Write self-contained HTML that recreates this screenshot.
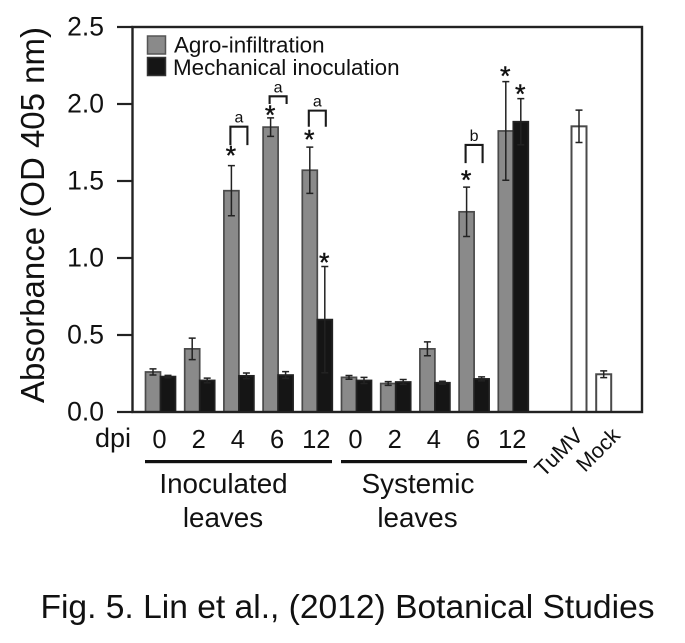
<!DOCTYPE html>
<html>
<head>
<meta charset="utf-8">
<style>
html,body{margin:0;padding:0;background:#fff;}
svg{display:block;font-family:"Liberation Sans",sans-serif;fill:#111;}
</style>
</head>
<body>
<svg id="chart" xmlns="http://www.w3.org/2000/svg" width="685" height="643" viewBox="0 0 685 643">
  <rect width="685" height="643" fill="#fff"/>
  <g id="bars"></g>
  <g id="annotations"></g>
  <rect x="132.5" y="27" width="509.5" height="385" fill="none" stroke="#222" stroke-width="2.4"/>
  <g id="axis"></g>
  <text transform="translate(44,215) rotate(-90)" text-anchor="middle" font-size="33">Absorbance (OD 405 nm)</text>

  <rect x="147.5" y="36" width="18" height="18" fill="#8a8a8a" stroke="#555" stroke-width="1.5"/>
  <text x="174" y="52.5" font-size="22.4">Agro-infiltration</text>
  <rect x="147.5" y="57.5" width="18" height="18" fill="#151515" stroke="#333" stroke-width="1.5"/>
  <text x="173" y="75" font-size="22.4">Mechanical inoculation</text>

  <text x="95" y="447" font-size="27">dpi</text>
  <g id="xlabels"></g>
  <text transform="translate(543.5,478) rotate(-45)" font-size="22">TuMV</text>
  <text transform="translate(585,473) rotate(-45)" font-size="21.5">Mock</text>
  <rect x="145" y="460" width="187" height="3.2" fill="#111"/>
  <rect x="341" y="460" width="186" height="3.2" fill="#111"/>
  <text x="223.5" y="493" text-anchor="middle" font-size="27.8">Inoculated</text>
  <text x="223" y="527" text-anchor="middle" font-size="27.8">leaves</text>
  <text x="418" y="493" text-anchor="middle" font-size="27.8">Systemic</text>
  <text x="417.5" y="527" text-anchor="middle" font-size="27.8">leaves</text>
  <text x="347.5" y="618" text-anchor="middle" font-size="33.6">Fig. 5. Lin et al., (2012) Botanical Studies</text>
</svg>
<script>
var yTicks = [0, 0.5, 1.0, 1.5, 2.0, 2.5];
var dpiLabels = ['0', '2', '4', '6', '12', '0', '2', '4', '6', '12'];
var agroValues = [0.26, 0.41, 1.437, 1.85, 1.57, 0.225, 0.185, 0.41, 1.30, 1.825];
var agroErrors = [0.02, 0.07, 0.163, 0.06, 0.15, 0.012, 0.012, 0.045, 0.16, 0.32];
var mechValues = [0.23, 0.205, 0.235, 0.24, 0.60, 0.205, 0.195, 0.19, 0.215, 1.885];
var mechErrors = [0.008, 0.015, 0.018, 0.022, 0.345, 0.02, 0.016, 0.01, 0.013, 0.15];
var controlValues = [1.855, 0.245];
var controlErrors = [0.105, 0.022];
var agroStarGroups = [2, 3, 4, 8, 9];
var agroStarLevels = [1.688, 1.95, 1.792, 1.528, 2.203];
var mechStarGroups = [4, 9];
var mechStarLevels = [0.994, 2.086];
var bracketGroups = [2, 3, 4, 8];
var bracketLetters = ['a', 'a', 'a', 'b'];
var bracketTops = [1.853, 2.05, 1.957, 1.734];
var bracketDrops = [0.12, 0.05, 0.105, 0.118];

var NS = 'http://www.w3.org/2000/svg';
function y(v) { return 412 - 154 * v; }
function xGroup(i) { return 145 + 39.2 * i; }
function xControl(i) { return 571 + 24.7 * i; }
var BAR = 15;

function make(tag, attrs, parent) {
  var el = document.createElementNS(NS, tag);
  for (var k in attrs) el.setAttribute(k, attrs[k]);
  parent.appendChild(el);
  return el;
}

var barsG = document.getElementById('bars');
var annG = document.getElementById('annotations');
var axisG = document.getElementById('axis');
var labelG = document.getElementById('xlabels');

function drawBar(x, value, err, fill, stroke, sw) {
  var rect = make('rect', {x: x + 0.5, y: y(value), width: BAR, height: 412 - y(value), fill: fill, stroke: stroke, 'stroke-width': sw}, barsG);
  
  
  var cx = x + BAR / 2 + 0.5;
  var d = 'M' + cx + ' ' + y(value + err) + 'V' + y(value - err) +
          'M' + (cx - 3.5) + ' ' + y(value + err) + 'H' + (cx + 3.5) +
          'M' + (cx - 3.5) + ' ' + y(value - err) + 'H' + (cx + 3.5);
  var path = make('path', {d: d, fill: 'none', stroke: '#222', 'stroke-width': 1.5}, annG);
  
  
}

function drawStar(cx, level) {
  var t = make('text', {x: cx, y: y(level) + 12.4, 'text-anchor': 'middle', 'font-size': 27, stroke: '#111', 'stroke-width': 0.4}, annG);
  t.textContent = '*';
  
  
}

agroValues.forEach(function (v, i) {
  drawBar(xGroup(i), v, agroErrors[i], '#8a8a8a', '#4a4a4a', 1.7);
});
mechValues.forEach(function (v, i) {
  drawBar(xGroup(i) + BAR, v, mechErrors[i], '#151515', '#222', 1.7);
});
controlValues.forEach(function (v, i) {
  drawBar(xControl(i), v, controlErrors[i], '#ffffff', '#4a4a4a', 2);
});

agroStarGroups.forEach(function (g, i) {
  drawStar(xGroup(g) + BAR / 2, agroStarLevels[i]);
});
mechStarGroups.forEach(function (g, i) {
  drawStar(xGroup(g) + BAR * 1.5, mechStarLevels[i]);
});

bracketGroups.forEach(function (g, i) {
  var x1 = xGroup(g) + 7;
  var x2 = xGroup(g) + 24;
  var top = y(bracketTops[i]);
  var bottom = y(bracketTops[i] - bracketDrops[i]);
  var p = make('path', {d: 'M' + x1 + ' ' + bottom + 'V' + top + 'H' + x2 + 'V' + bottom, fill: 'none', stroke: '#1a1a1a', 'stroke-width': 2.1}, annG);
  
  
  var t = make('text', {x: (x1 + x2) / 2, y: top - 4, 'text-anchor': 'middle', 'font-size': 16}, annG);
  t.textContent = bracketLetters[i];
  
  
});

yTicks.forEach(function (v) {
  var l = make('line', {x1: 117, x2: 133, y1: y(v), y2: y(v), stroke: '#222', 'stroke-width': 2.2}, axisG);
  
  
  var t = make('text', {x: 104, y: y(v) + 8.5, 'text-anchor': 'end', 'font-size': 26.5}, axisG);
  t.textContent = v.toFixed(1);
  
  
});

dpiLabels.forEach(function (s, i) {
  var t = make('text', {x: xGroup(i) + BAR - 0.5, y: 448, 'text-anchor': 'middle', 'font-size': 25.5}, labelG);
  t.textContent = s;
  
  
});
</script>
</body>
</html>
